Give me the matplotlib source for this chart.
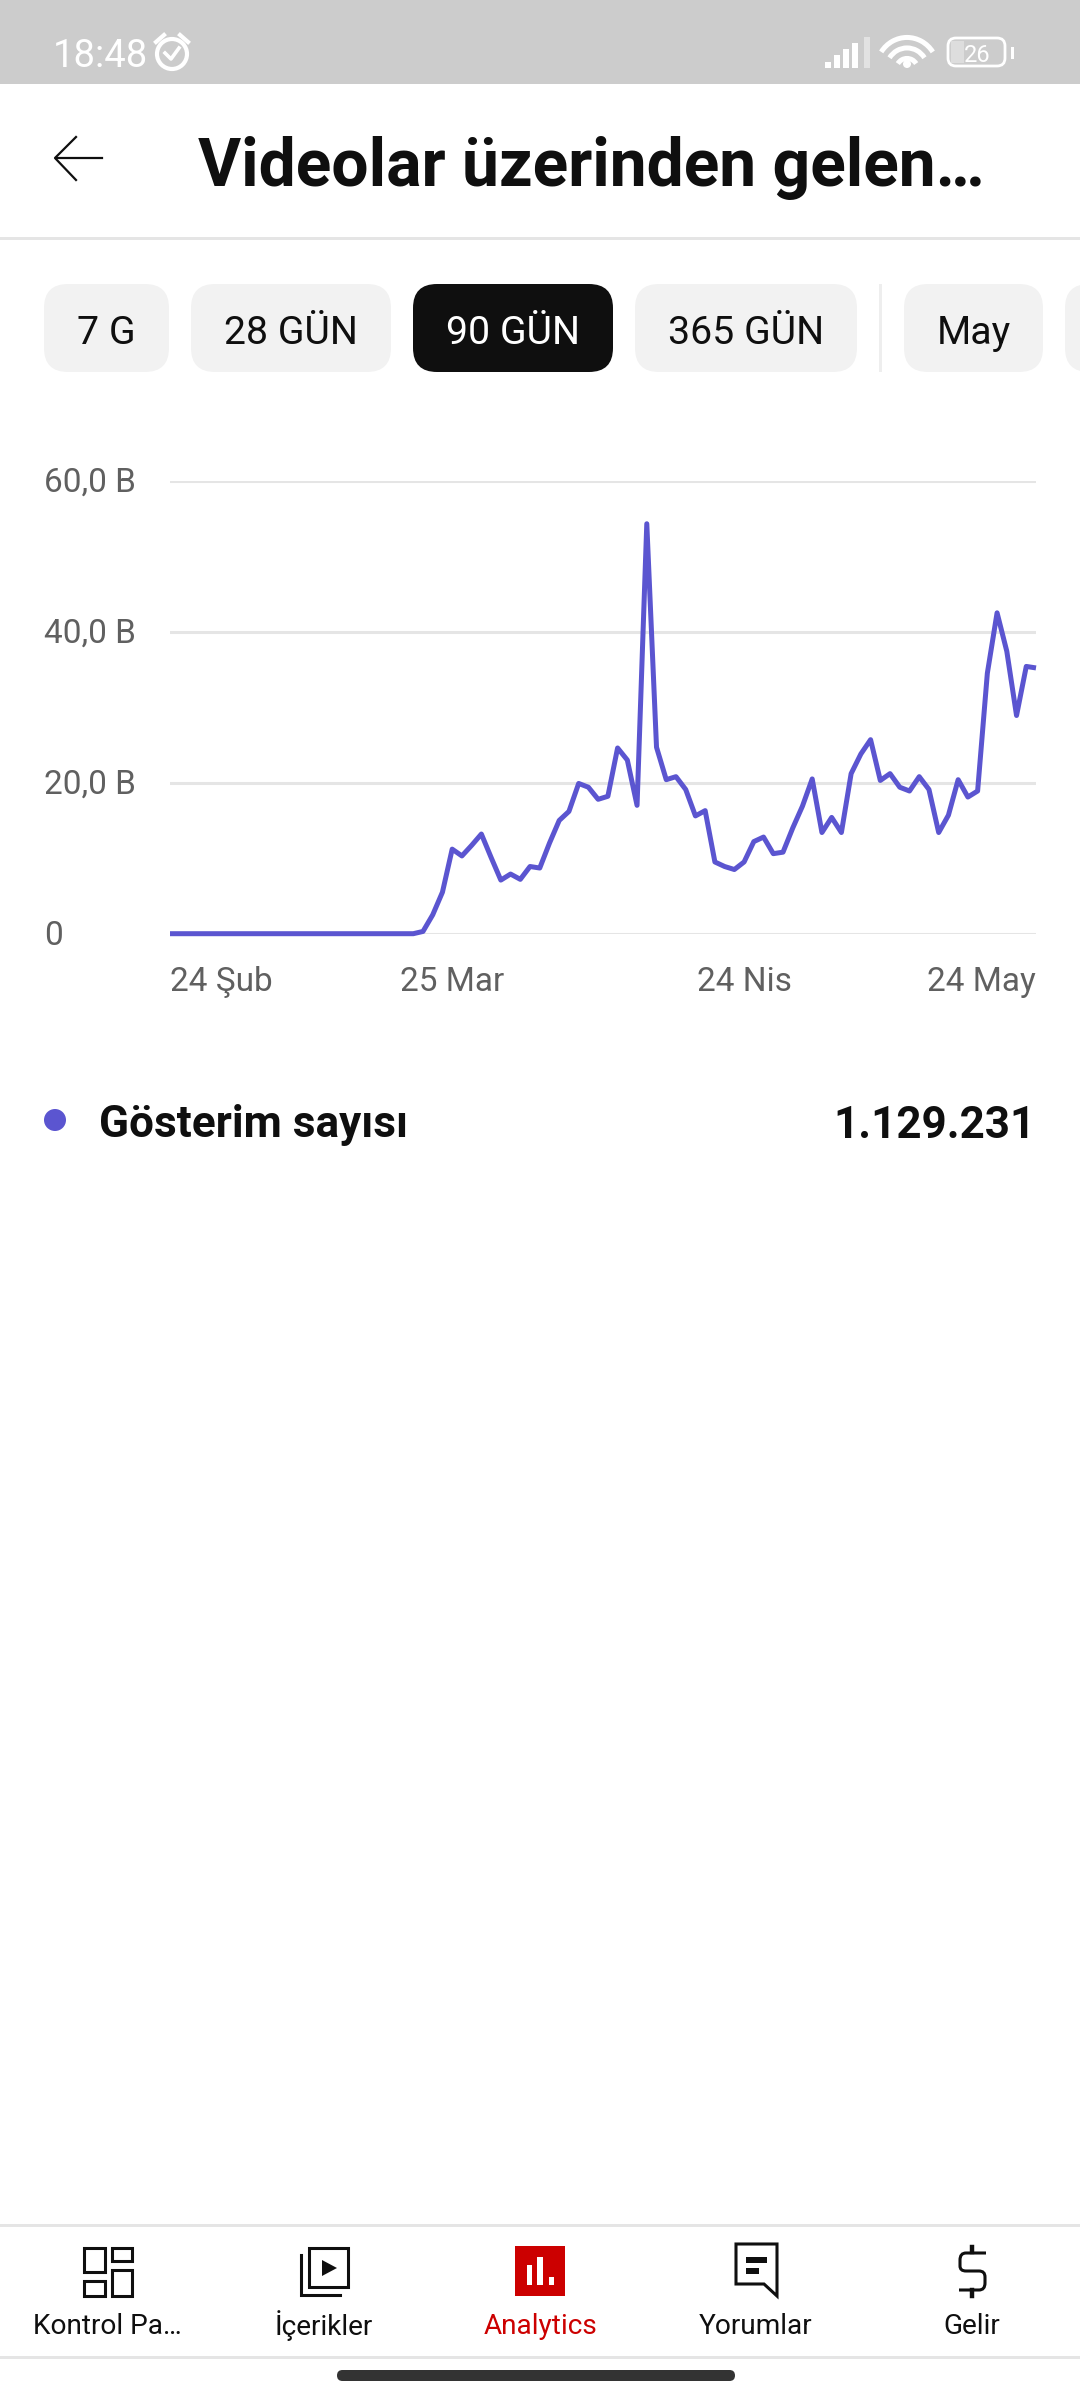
import matplotlib
matplotlib.use("Agg")
import matplotlib.pyplot as plt
from matplotlib.patches import Rectangle, FancyBboxPatch, Circle, Polygon, PathPatch, Arc
from matplotlib.path import Path
from matplotlib.transforms import ScaledTranslation

plt.rcParams['font.family'] = ['Roboto', 'DejaVu Sans']

# --- chart data (thousands, "B" = bin) ---
impressions = [0]*26 + [0.3, 2.5, 5.5, 11.2, 10.3, 11.7, 13.2, 10.1, 7.1, 7.9, 7.2, 8.9, 8.7, 12.0, 15.0,
               16.2, 19.9, 19.4, 17.8, 18.2, 24.6, 23.0, 17.0, 54.3, 24.7, 20.4, 20.8, 19.1, 15.6, 16.3,
               9.5, 8.9, 8.5, 9.5, 12.2, 12.8, 10.6, 10.8, 14.0, 16.9, 20.5, 13.4, 15.4, 13.4, 21.2,
               23.8, 25.7, 20.3, 21.2, 19.4, 18.9, 20.8, 19.1, 13.4, 15.7, 20.4, 18.1, 18.9, 34.5,
               42.5, 37.4, 28.9, 35.4, 35.2]
days = list(range(len(impressions)))
x_tick_days = [0, 29, 59, 89]
x_tick_labels = ["24 Şub", "25 Mar", "24 Nis", "24 May"]
x_tick_aligns = ["left", "center", "center", "right"]
y_ticks = [0, 20, 40, 60]
y_tick_labels = ["0", "20,0 B", "40,0 B", "60,0 B"]
series_name = "Gösterim sayısı"
series_total = "1.129.231"
title = "Videolar üzerinden gelen…"
pills = ["7 G", "28 GÜN", "90 GÜN", "365 GÜN", "May"]
nav_labels = ["Kontrol Pa…", "İçerikler", "Analytics", "Yorumlar", "Gelir"]

W, H = 1080, 2400
INK = "#0f0f0f"
GRID = "#e5e5e5"
PURPLE = "#5b55d0"
RED = "#cc0000"
PX = 0.72

fig = plt.figure(figsize=(W/100, H/100), dpi=100, facecolor="white")
bg = fig.add_axes([0, 0, 1, 1], zorder=0)
bg.set_xlim(0, W); bg.set_ylim(H, 0); bg.axis("off")

# status bar
bg.add_patch(Rectangle((0, 0), W, 84, fc="#cccccc", ec="none"))
bg.text(53, 52.5, "18:48", color="white", fontsize=27.5, va="center_baseline", ha="left")
bg.add_patch(Circle((172, 54), 15, fc="none", ec="white", lw=3))
bg.plot([165, 171, 179], [53, 59, 48], color="white", lw=2.6)
bg.plot([156, 164], [42, 35], color="white", lw=3)
bg.plot([180, 188], [35, 42], color="white", lw=3)
for i, (x, top) in enumerate(zip([825, 834, 843, 852, 864], [62, 55, 49, 43, 37])):
    bg.add_patch(Rectangle((x, top), 6, 68-top, fc="white" if i < 4 else "#e2e2e2", ec="none"))
for r in [31, 21, 11]:
    bg.add_patch(Arc((907, 70), 2*r, 2*r*1.05, theta1=215, theta2=325, ec="white", lw=3.6))
bg.add_patch(Circle((907, 64), 4, fc="white", ec="none"))
bg.add_patch(FancyBboxPatch((948, 38), 57, 28, boxstyle="round,pad=0,rounding_size=8", fc="none", ec="white", lw=2))
bg.add_patch(Rectangle((951, 41), 13, 22, fc="#dddddd", ec="none"))
bg.add_patch(Rectangle((1011, 47), 3, 12, fc="white", ec="none"))
bg.text(977, 53, "26", color="white", fontsize=17, ha="center", va="center_baseline")

# header
bg.plot([56, 102], [158, 158], color=INK, lw=1.6)
bg.plot([76, 55, 76], [137, 158, 180], color=INK, lw=1.6)
bg.text(198, 185.5, title, color=INK, fontsize=47.5, fontweight="bold", ha="left", va="baseline")
bg.add_patch(Rectangle((0, 237), W, 3, fc=GRID, ec="none"))

# period pills
pill_spans = [(44, 169), (191, 391), (413, 613), (635, 857), (904, 1043)]
for (a, b), label, active in zip(pill_spans, pills, [0, 0, 1, 0, 0]):
    bg.add_patch(FancyBboxPatch((a, 284), b-a, 88, boxstyle="round,pad=0,rounding_size=24",
                                fc=INK if active else "#f2f2f2", ec="none"))
    bg.text((a+b)/2, 329, label, color="white" if active else INK, fontsize=28.3,
            ha="center", va="center_baseline")
bg.add_patch(FancyBboxPatch((1065, 284), 60, 88, boxstyle="round,pad=0,rounding_size=24",
                            fc="#f2f2f2", ec="none"))
bg.add_patch(Rectangle((879, 284), 3, 88, fc="#eeeeee", ec="none"))

# chart
ax = fig.add_axes([170/W, 1-933.7/H, 866/W, 453/H], zorder=1)
ax.patch.set_alpha(0)
ax.set_xlim(days[0], days[-1]); ax.set_ylim(0, 60)
for s in ax.spines.values():
    s.set_visible(False)
ax.set_yticks(y_ticks, y_tick_labels)
ax.set_xticks(x_tick_days, x_tick_labels)
ax.tick_params(axis="y", length=0, pad=126*PX, labelsize=24, labelcolor="#606060")
ax.tick_params(axis="x", length=0, pad=23.5, labelsize=24, labelcolor="#606060")
lift = ScaledTranslation(0, 1.2/100, fig.dpi_scale_trans)
for lab in ax.get_yticklabels():
    lab.set_ha("left")
    lab.set_va("center_baseline")
    lab.set_transform(lab.get_transform() + lift)
for lab, al in zip(ax.get_xticklabels(), x_tick_aligns):
    lab.set_ha(al)
ax.grid(axis="y", color=GRID, lw=2.2)
ax.set_axisbelow(True)
ax.plot(days, impressions, color=PURPLE, lw=3.6, solid_joinstyle="round", solid_capstyle="butt", clip_on=False)

# legend row
bg.add_patch(Circle((55, 1120), 11, fc=PURPLE, ec="none"))
bg.text(99, 1121, series_name, color=INK, fontsize=31.8, fontweight="bold", ha="left", va="center_baseline")
bg.text(1036, 1121, series_total, color=INK, fontsize=31.7, fontweight="bold", ha="right", va="center_baseline")

# bottom nav
bg.add_patch(Rectangle((0, 2224), W, 3, fc=GRID, ec="none"))
bg.add_patch(Rectangle((0, 2356), W, 3, fc=GRID, ec="none"))
bg.add_patch(FancyBboxPatch((337, 2370), 398, 11, boxstyle="round,pad=0,rounding_size=5.5", fc="#333333", ec="none"))
nav_x = [107, 324, 541, 756, 972]
for x, label, col in zip(nav_x, nav_labels, [INK, INK, RED, INK, INK]):
    bg.text(x, 2323, label, color=col, fontsize=20.2, ha="center", va="center_baseline")
# dashboard icon
for (x0, y0, x1, y1) in [(84, 2248, 105, 2272), (112, 2248, 132, 2261), (84, 2281, 105, 2296), (112, 2270, 132, 2296)]:
    bg.add_patch(Rectangle((x0, y0), x1-x0, y1-y0, fc="none", ec=INK, lw=2.2))
# content icon
bg.add_patch(Rectangle((309, 2248), 39, 39, fc="none", ec=INK, lw=2.2))
bg.add_patch(Polygon([(322, 2260), (337, 2268), (322, 2276)], fc=INK, ec="none"))
bg.plot([301, 301, 340], [2255, 2295, 2295], color=INK, lw=2.2, solid_joinstyle="miter")
# analytics icon
bg.add_patch(Rectangle((515, 2246), 50, 50, fc=RED, ec="none"))
for (x0, x1, y0) in [(527, 532, 2265), (537, 543, 2257), (549, 554, 2277)]:
    bg.add_patch(Rectangle((x0, y0), x1-x0, 2285-y0, fc="white", ec="none"))
# comments icon
bg.add_patch(Polygon([(736, 2244), (777, 2244), (777, 2296), (764, 2284), (736, 2284)], closed=True,
                     fc="none", ec=INK, lw=2.2, joinstyle="miter"))
bg.add_patch(Rectangle((746, 2257), 21, 6, fc=INK, ec="none"))
bg.add_patch(Rectangle((746, 2268), 13, 6, fc=INK, ec="none"))
# earnings icon
bg.plot([972, 972], [2247, 2252], color=INK, lw=3.2)
bg.plot([972, 972], [2290, 2296], color=INK, lw=3.2)
s_path = Path([(986, 2253), (966, 2253), (960, 2253), (960, 2260), (960, 2266), (960, 2271), (966, 2271),
               (979, 2271), (985, 2271), (985, 2277), (985, 2283), (985, 2290), (979, 2290), (959, 2290)],
              [Path.MOVETO, Path.LINETO, Path.CURVE3, Path.CURVE3, Path.LINETO, Path.CURVE3, Path.CURVE3,
               Path.LINETO, Path.CURVE3, Path.CURVE3, Path.LINETO, Path.CURVE3, Path.CURVE3, Path.LINETO])
bg.add_patch(PathPatch(s_path, fc="none", ec=INK, lw=2.2))

fig.savefig("out.png", dpi=100, facecolor="white")
